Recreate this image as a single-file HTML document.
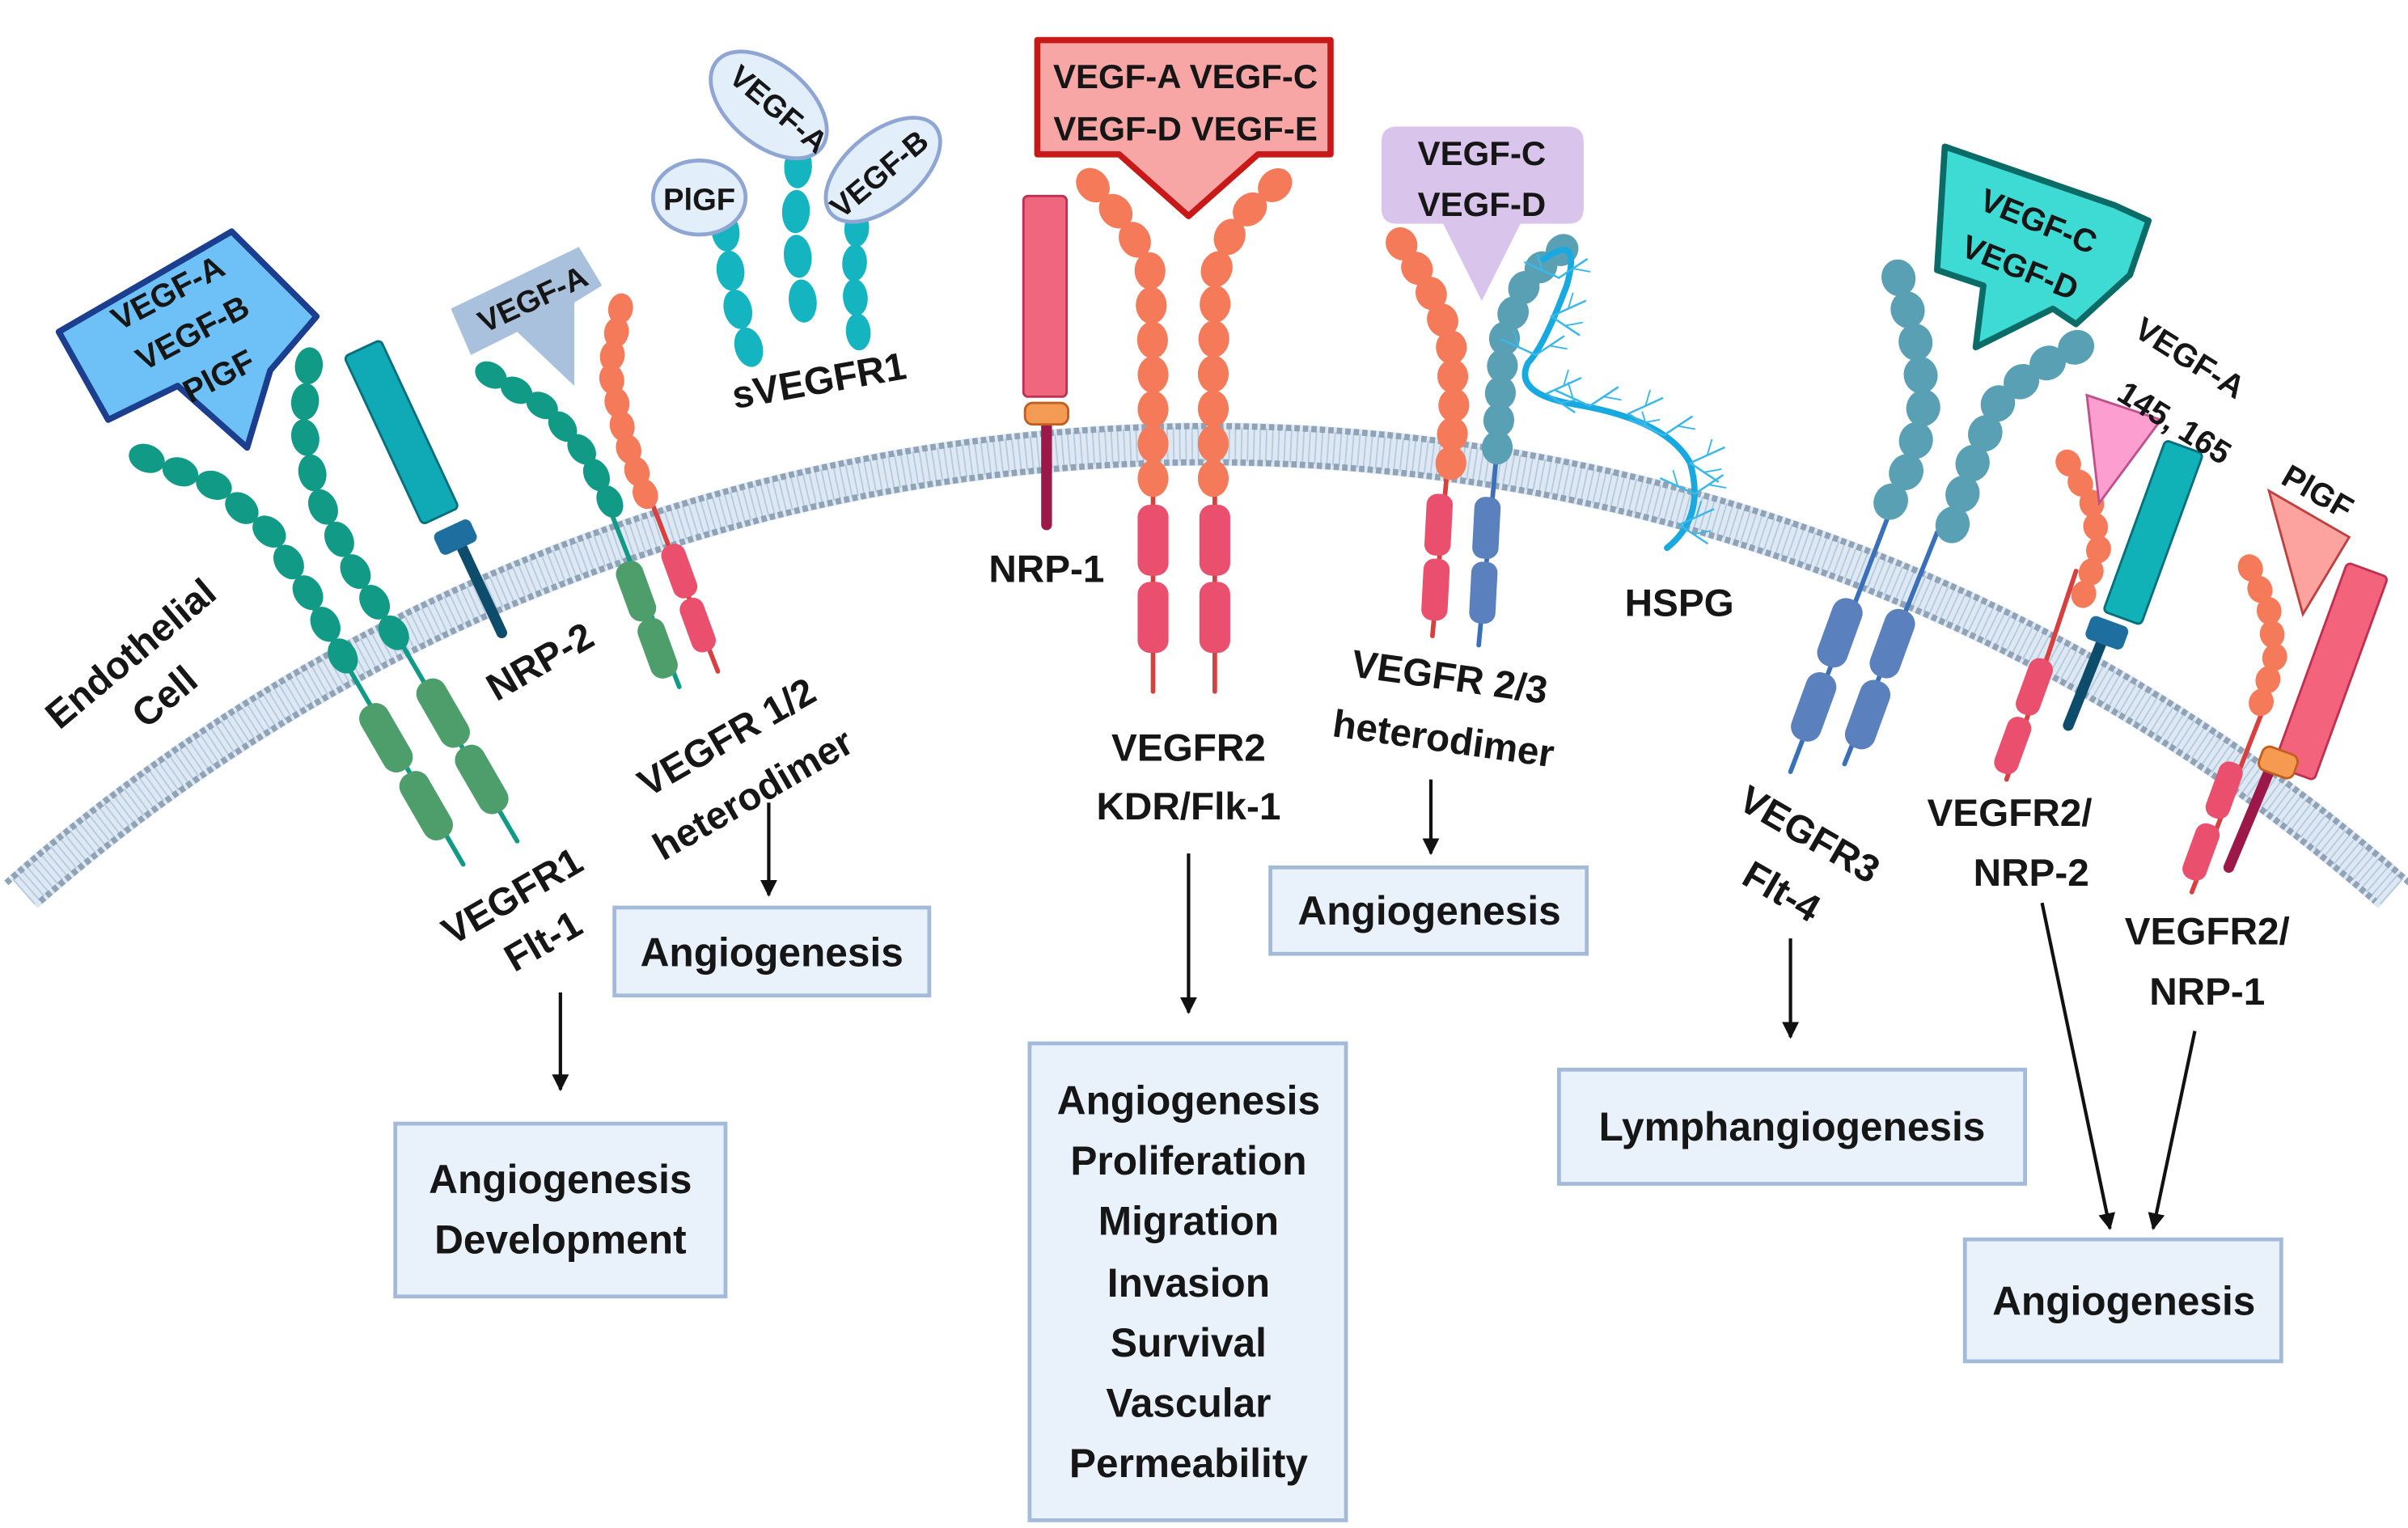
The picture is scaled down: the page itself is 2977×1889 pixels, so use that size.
<!DOCTYPE html>
<html><head><meta charset="utf-8">
<style>
html,body{margin:0;padding:0;background:#fff;}
svg{display:block;}
text{font-family:"Liberation Sans",sans-serif;font-weight:bold;fill:#161616;}
</style></head>
<body>
<svg id="s" width="2977" height="1889" viewBox="0 0 1560 990" xmlns="http://www.w3.org/2000/svg">
<defs>
<marker id="ah" viewBox="0 0 10 10" refX="9" refY="5" markerWidth="11" markerHeight="11" orient="auto-start-reverse" markerUnits="userSpaceOnUse"><path d="M0,0 L10,5 L0,10 z" fill="#111"/></marker>
</defs>
<!-- membrane -->
<g fill="none">
<path d="M15,578 A1160,1160 0 0 1 1550,578" stroke="#dde8f3" stroke-width="28"/>
<path d="M15,578 A1160,1160 0 0 1 1550,578" stroke="#b7cbe0" stroke-width="22" stroke-dasharray="1 3"/>
<path d="M4,572 A1172,1172 0 0 1 1561,572" stroke="#8fa2b6" stroke-width="4" stroke-dasharray="3.5 2"/>
<path d="M26,584 A1148,1148 0 0 1 1539,584" stroke="#8fa2b6" stroke-width="4" stroke-dasharray="3.5 2"/>
</g>
<g id="g"></g>

<!-- text boxes -->
<g fill="#e9f1fa" stroke="#a3bbd8" stroke-width="2.5">
<rect x="256" y="728" width="214" height="112"/>
<rect x="398" y="588" width="204" height="57"/>
<rect x="667" y="676" width="205" height="309"/>
<rect x="823" y="562" width="205" height="56"/>
<rect x="1010" y="693" width="302" height="74"/>
<rect x="1273" y="803" width="205" height="79"/>
</g>
<g font-size="26" text-anchor="middle">
<text x="363" y="773">Angiogenesis</text><text x="363" y="812">Development</text>
<text x="500" y="626">Angiogenesis</text>
<text x="770" y="722">Angiogenesis</text><text x="770" y="761">Proliferation</text><text x="770" y="800">Migration</text><text x="770" y="840">Invasion</text><text x="770" y="879">Survival</text><text x="770" y="918">Vascular</text><text x="770" y="957">Permeability</text>
<text x="926" y="599">Angiogenesis</text>
<text x="1161" y="739">Lymphangiogenesis</text>
<text x="1376" y="852">Angiogenesis</text>
</g>
<!-- arrows -->
<g stroke="#111" stroke-width="2.2" marker-end="url(#ah)">
<line x1="363" y1="643" x2="363" y2="706"/>
<line x1="498" y1="520" x2="498" y2="580"/>
<line x1="770" y1="553" x2="770" y2="656"/>
<line x1="927" y1="505" x2="927" y2="553"/>
<line x1="1160" y1="608" x2="1160" y2="672"/>
<line x1="1323" y1="585" x2="1367" y2="796"/>
<line x1="1422" y1="668" x2="1395" y2="796"/>
</g>
<!-- labels -->
<g font-size="25" text-anchor="middle">
<text transform="translate(90,430) rotate(-40)">Endothelial</text>
<text transform="translate(112,458) rotate(-40)">Cell</text>
<text transform="translate(354,436) rotate(-30)">NRP-2</text>
<text transform="translate(475,485) rotate(-30)">VEGFR 1/2</text>
<text transform="translate(492,522) rotate(-30)">heterodimer</text>
<text transform="translate(336,588) rotate(-30)">VEGFR1</text>
<text transform="translate(356,617) rotate(-30)">Flt-1</text>
<text transform="translate(532,255) rotate(-10)">sVEGFR1</text>
<text x="678" y="377">NRP-1</text>
<text x="770" y="493">VEGFR2</text>
<text x="770" y="531">KDR/Flk-1</text>
<text transform="translate(938,447) rotate(8)">VEGFR 2/3</text>
<text transform="translate(934,487) rotate(8)">heterodimer</text>
<text x="1088" y="399">HSPG</text>
<text transform="translate(1168,548) rotate(30)">VEGFR3</text>
<text transform="translate(1150,585) rotate(30)">Flt-4</text>
<text x="1302" y="535">VEGFR2/</text>
<text x="1316" y="574">NRP-2</text>
<text x="1430" y="612">VEGFR2/</text>
<text x="1430" y="651">NRP-1</text>
</g>
</svg>
<script>
var NS="http://www.w3.org/2000/svg",G=document.getElementById("g");
function el(t,a){var e=document.createElementNS(NS,t);for(var k in a)e.setAttribute(k,a[k]);G.appendChild(e);return e;}
function line(p,c,w){el("polyline",{points:p.map(function(q){return q.join(",")}).join(" "),fill:"none",stroke:c,"stroke-width":w||3,"stroke-linecap":"round"});}
function beads(p,n,c,rx,ry){
 var L=[0],i;for(i=1;i<p.length;i++)L.push(L[i-1]+Math.hypot(p[i][0]-p[i-1][0],p[i][1]-p[i-1][1]));
 var T=L[L.length-1];
 for(var k=0;k<n;k++){var d=n==1?0:T*k/(n-1);var j=1;while(j<p.length-1&&L[j]<d)j++;
  var f=(d-L[j-1])/((L[j]-L[j-1])||1),x=p[j-1][0]+f*(p[j][0]-p[j-1][0]),y=p[j-1][1]+f*(p[j][1]-p[j-1][1]);
  var a=Math.atan2(p[j][1]-p[j-1][1],p[j][0]-p[j-1][0])*180/Math.PI;
  el("ellipse",{cx:x,cy:y,rx:rx||11,ry:ry||8,fill:c,transform:"rotate("+a+" "+x+" "+y+")"});}
}
function rrect(cx,cy,w,h,ang,c,r,st){el("rect",{x:cx-w/2,y:cy-h/2,width:w,height:h,rx:r==null?6:r,fill:c,stroke:st||"none","stroke-width":1.5,transform:"rotate("+ang+" "+cx+" "+cy+")"});}
function txt(x,y,s,ang,fs){var t=el("text",{x:0,y:0,"font-size":fs||22,"text-anchor":"middle",transform:"translate("+x+","+y+") rotate("+(ang||0)+")"});t.textContent=s;}
var TEAL="#119a86",GR="#4e9e6c",OR="#f47a5a",PK="#ea4f6e",BL="#5a80bd",BT="#5aa0b5";

/* VEGFR1 */
line([[195,380],[300,560]],TEAL,3);line([[250,400],[335,545]],TEAL,3);
beads([[95,297],[140,315],[175,345],[200,385],[222,425]],9,TEAL,12,9);
beads([[200,237],[196,275],[205,320],[230,370],[255,410]],9,TEAL,12,9);
rrect(250,478,20,48,-30,GR,9);rrect(276,522,20,48,-30,GR,9);
rrect(287,462,20,48,-30,GR,9);rrect(312,505,20,48,-30,GR,9);
/* NRP-2 left */
line([[297,350],[325,410]],"#0d4d6b",7);
rrect(260,280,26,120,-25,"#10a9b6",3,"#0a6f7a");
rrect(295,348,26,16,-25,"#1e6fa0",4);
/* VEGFR1/2 */
line([[395,330],[440,445]],TEAL,3);line([[420,320],[465,435]],"#d84040",3);
beads([[318,243],[355,265],[380,295],[395,325]],7,TEAL,11,8);
beads([[402,200],[395,240],[405,285],[418,320]],9,OR,10,8);
rrect(412,383,18,40,-20,GR,8);rrect(426,420,18,40,-20,GR,8);
rrect(440,370,16,36,-20,PK,7);rrect(452,405,16,36,-20,PK,7);
/* callouts left */
el("path",{d:"M38,215 L150,150 L205,205 L175,240 L160,290 L115,250 L70,272 Z",fill:"#6ec1f6",stroke:"#1b3e8e","stroke-width":4,"stroke-linejoin":"round"});
txt(112,196,"VEGF-A",-28,21);txt(128,222,"VEGF-B",-28,21);txt(145,250,"PlGF",-28,21);
el("path",{d:"M292,200 L375,160 L390,185 L372,196 L372,250 L335,215 L305,230 Z",fill:"#a9c1dc"});
txt(348,200,"VEGF-A",-25,20);
/* sVEGFR1 */
beads([[470,150],[475,190],[485,225]],4,"#14b4c0",13,9);
beads([[517,108],[515,150],[520,195]],4,"#14b4c0",14,9);
beads([[555,148],[553,180],[556,215]],4,"#14b4c0",12,8);
el("ellipse",{cx:453,cy:128,rx:30,ry:24,fill:"#e2eefa",stroke:"#8fa6d3","stroke-width":2.5});txt(453,136,"PlGF",0,20);
el("ellipse",{cx:498,cy:68,rx:44,ry:26,fill:"#e2eefa",stroke:"#8fa6d3","stroke-width":2.5,transform:"rotate(40 498 68)"});txt(500,76,"VEGF-A",40,20);
el("ellipse",{cx:572,cy:110,rx:44,ry:24,fill:"#e2eefa",stroke:"#8fa6d3","stroke-width":2.5,transform:"rotate(-40 572 110)"});txt(574,118,"VEGF-B",-40,20);
/* NRP-1 center */
line([[678,270],[678,340]],"#9b1848",7);
rrect(677,192,28,130,0,"#f0667f",3,"#c03050");
rrect(678,268,28,14,0,"#f39b55",5,"#c06020");
/* VEGFR2 */
line([[747,320],[747,448]],"#d84040",3);line([[787,320],[787,448]],"#d84040",3);
beads([[708,120],[730,145],[745,175],[747,230],[747,310]],10,OR,12,10);
beads([[826,120],[800,145],[788,175],[786,230],[786,310]],10,OR,12,10);
rrect(747,350,20,46,0,PK,8);rrect(747,400,20,46,0,PK,8);
rrect(787,350,20,46,0,PK,8);rrect(787,400,20,46,0,PK,8);
el("path",{d:"M672,26 L862,26 L862,100 L815,100 L770,140 L725,100 L672,100 Z",fill:"#f8a5a5",stroke:"#c81818","stroke-width":4,"stroke-linejoin":"round"});
txt(768,57,"VEGF-A VEGF-C",0,22);txt(768,91,"VEGF-D VEGF-E",0,22);
/* VEGFR2/3 */
line([[938,300],[928,412]],"#d84040",3);line([[970,290],[958,418]],"#3a70b8",3);
beads([[908,158],[925,185],[940,220],[942,260],[940,300]],9,OR,11,10);
beads([[1012,162],[990,180],[975,215],[972,255],[970,290]],9,BT,11,10);
rrect(932,340,17,40,3,PK,7);rrect(930,382,17,40,3,PK,7);
rrect(963,342,17,40,3,BL,7);rrect(961,384,17,40,3,BL,7);
el("path",{d:"M895,92 Q895,82 905,82 L1016,82 Q1026,82 1026,92 L1026,135 Q1026,145 1016,145 L985,145 L960,195 L935,145 L905,145 Q895,145 895,135 Z",fill:"#d9c4ec"});
txt(960,107,"VEGF-C",0,22);txt(960,140,"VEGF-D",0,22);
/* HSPG */
el("path",{d:"M1000,168 Q1025,150 1015,185 Q1000,225 990,235 Q980,255 1020,262 Q1080,272 1095,300 Q1105,335 1080,355",fill:"none",stroke:"#17a9e0","stroke-width":4,"stroke-linecap":"round"});
(function(){var br=[[1010,180],[1005,205],[995,230],[1002,255],[1030,263],[1055,268],[1078,282],[1095,300],[1098,320],[1088,340]];
br.forEach(function(b,i){var s=i%2?1:-1;line([[b[0],b[1]],[b[0]+22*s,b[1]-10]],"#3ab8e8",1.3);line([[b[0],b[1]],[b[0]+18,b[1]+12*s]],"#3ab8e8",1.3);
line([[b[0]+11*s,b[1]-5],[b[0]+14*s,b[1]-15]],"#3ab8e8",1);line([[b[0]+9,b[1]+6*s],[b[0]+20,b[1]+4*s]],"#3ab8e8",1);});})();
/* VEGFR3 */
line([[1225,330],[1160,500]],"#3a70b8",3);line([[1255,345],[1195,495]],"#3a70b8",3);
beads([[1230,180],[1240,215],[1247,260],[1238,300],[1225,325]],8,BT,12,11);
beads([[1345,225],[1318,240],[1295,260],[1278,300],[1265,340]],8,BT,12,11);
rrect(1192,410,20,46,20,BL,9);rrect(1175,458,20,46,20,BL,9);
rrect(1226,417,20,46,20,BL,9);rrect(1210,463,20,46,20,BL,9);
el("path",{d:"M1260,95 L1370,133 L1392,143 L1380,178 L1345,210 L1330,200 L1280,225 L1285,185 L1255,175 Z",fill:"#3edbd5",stroke:"#0b6b66","stroke-width":4,"stroke-linejoin":"round"});
txt(1318,150,"VEGF-C",22,21);txt(1306,180,"VEGF-D",22,21);
/* VEGFR2/NRP-2 right */
line([[1345,370],[1300,505]],"#d84040",3);
beads([[1340,300],[1355,325],[1360,355],[1350,385]],7,OR,9,8);
rrect(1318,445,16,38,20,PK,7);rrect(1304,483,16,38,20,PK,7);
line([[1362,415],[1340,470]],"#0d4d6b",7);
rrect(1395,345,26,118,20,"#10b1b7",3,"#0a6f7a");
rrect(1365,410,26,16,20,"#1e6fa0",4);
el("polygon",{points:"1352,256 1400,272 1360,326",fill:"#fc9fd0",stroke:"#c0508a","stroke-width":1.5});
txt(1415,238,"VEGF-A",32,21);txt(1405,280,"145, 165",32,21);
/* VEGFR2/NRP-1 right */
line([[1470,450],[1420,578]],"#d84040",3);
beads([[1458,368],[1470,395],[1474,425],[1465,455]],7,OR,9,8);
rrect(1441,512,16,38,20,PK,7);rrect(1426,552,16,38,20,PK,7);
line([[1470,500],[1444,562]],"#9b1848",7);
rrect(1510,435,28,140,20,"#f4637c",3,"#c03050");
rrect(1476,494,24,16,20,"#f59a50",5,"#c06020");
el("polygon",{points:"1470,318 1522,348 1492,398",fill:"#fca3a0",stroke:"#c04040","stroke-width":1.5});
txt(1498,325,"PlGF",30,21);
</script>
</body></html>
